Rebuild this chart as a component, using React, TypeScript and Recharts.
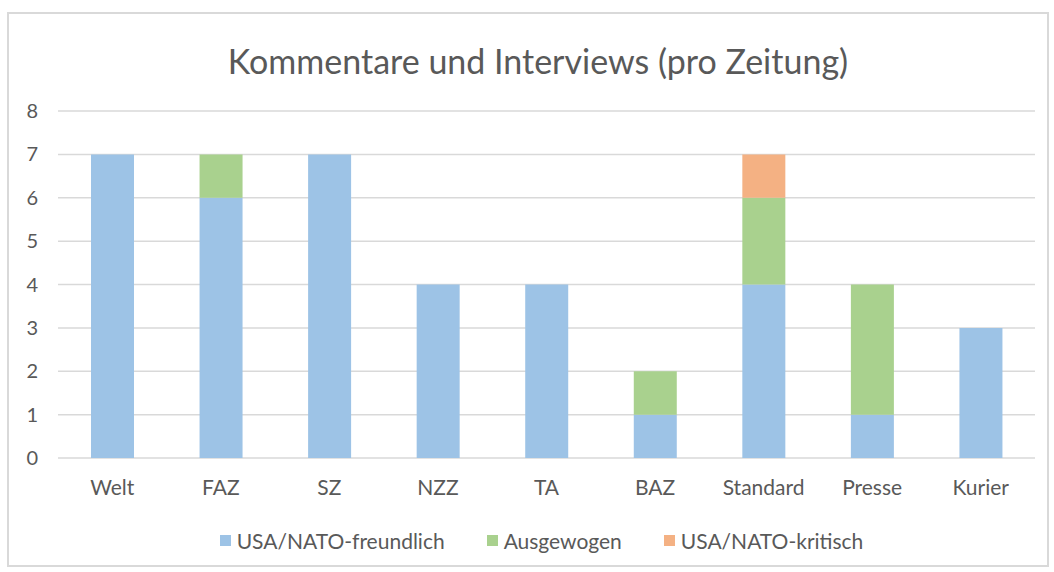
import React from "react";
import { BarChart, Bar, XAxis, YAxis, CartesianGrid, Legend } from "recharts";

const zeitungen = ["Welt", "FAZ", "SZ", "NZZ", "TA", "BAZ", "Standard", "Presse", "Kurier"];
const freundlich = [7, 6, 7, 4, 4, 1, 4, 1, 3];
const ausgewogen = [0, 1, 0, 0, 0, 1, 2, 3, 0];
const kritisch = [0, 0, 0, 0, 0, 0, 1, 0, 0];
const yTicks = [0, 1, 2, 3, 4, 5, 6, 7, 8];

const series = [
  { key: "freundlich", name: "USA/NATO-freundlich", color: "#9dc3e6" },
  { key: "ausgewogen", name: "Ausgewogen", color: "#a9d18e" },
  { key: "kritisch", name: "USA/NATO-kritisch", color: "#f4b183" },
];

const data = zeitungen.map((name, i) => ({
  name,
  freundlich: freundlich[i],
  ausgewogen: ausgewogen[i],
  kritisch: kritisch[i],
}));

const font = "Lato, 'Noto Sans', sans-serif";
const textColor = "#595959";

function LegendContent() {
  return (
    <div style={{ display: "flex", justifyContent: "center", gap: 42, fontSize: 21, color: textColor, fontFamily: font, paddingLeft: 48 }}>
      {series.map((s) => (
        <div key={s.key} style={{ display: "flex", alignItems: "center" }}>
          <span style={{ display: "inline-block", width: 11, height: 11, background: s.color, marginRight: 6 }} />
          <span>{s.name}</span>
        </div>
      ))}
    </div>
  );
}

export default function App() {
  return (
    <div style={{ position: "absolute", left: 0, top: 0, width: 1054, height: 572, background: "#fff", fontFamily: font }}>
      <div
        style={{
          position: "absolute",
          left: 7,
          top: 12,
          width: 1042,
          height: 555,
          border: "2px solid #d9d9d9",
          boxSizing: "border-box",
        }}
      />
      <div
        style={{
          position: "absolute",
          top: 40,
          left: 0,
          width: 1076,
          textAlign: "center",
          fontSize: 34,
          color: textColor,
        }}
      >
        Kommentare und Interviews (pro Zeitung)
      </div>
      <BarChart
        width={1054}
        height={572}
        data={data}
        margin={{ top: 111, right: 19, bottom: 8, left: 0 }}
        barSize={43}
        style={{ position: "absolute", left: 0, top: 0 }}
      >
        <CartesianGrid vertical={false} stroke="#d9d9d9" strokeWidth={1.5} />
        <XAxis
          dataKey="name"
          axisLine={false}
          tickLine={false}
          height={70}
          tickMargin={16}
          tick={{ fill: textColor, fontSize: 21, fontFamily: font }}
        />
        <YAxis
          width={58}
          domain={[0, 8]}
          ticks={yTicks}
          axisLine={false}
          tickLine={false}
          tickMargin={14}
          tick={{ fill: textColor, fontSize: 20, fontFamily: font }}
        />
        <Legend verticalAlign="bottom" content={<LegendContent />} wrapperStyle={{ height: 36 }} />
        {series.map((s) => (
          <Bar key={s.key} dataKey={s.key} name={s.name} stackId="a" fill={s.color} isAnimationActive={false} />
        ))}
      </BarChart>
    </div>
  );
}
